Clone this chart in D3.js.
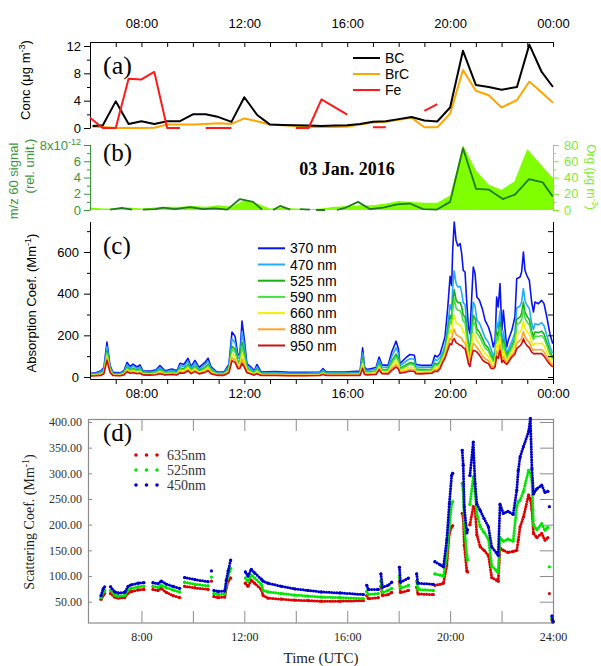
<!DOCTYPE html>
<html>
<head>
<meta charset="utf-8">
<script src="https://cdn.jsdelivr.net/npm/d3@7"></script>
<style>
  body { margin: 0; background: #fff; }
  svg { display: block; }
</style>
</head>
<body>
<svg id="chart" width="601" height="666"></svg>
<script>
// ---------------- data ----------------
// (a) mass concentrations, ug m-3 (time in decimal hours UTC)
const tA = [6.1, 6.5, 7.0, 7.5, 8.0, 8.5, 9.0, 9.5, 10.0, 10.5, 11.0, 11.5, 12.0, 12.5, 13.0, 13.5, 14.0, 14.5, 15.0, 15.5,
  16.0, 16.5, 17.0, 17.5, 18.0, 18.5, 19.0, 19.5, 20.0, 20.5, 21.0, 21.5, 22.0, 22.6, 23.08, 23.56, 24.0];
const bc = [0.3, 0.4, 3.9, 0.6, 1.0, 0.6, 1.0, 1.0, 2.0, 2.0, 1.6, 0.9, 4.5, 1.9, 0.5, 0.45, 0.4, 0.35, 0.3, 0.35,
  0.4, 0.6, 0.9, 1.0, 1.3, 1.6, 1.1, 0.95, 3.0, 11.3, 6.3, 6.0, 5.6, 6.0, 12.2, 8.2, 6.0];
const brc = [0.2, 0.15, 0.0, 0.0, 0.0, 0.05, 0.5, 0.5, 0.5, 0.6, 0.7, 0.6, 1.4, 1.0, 0.5, 0.4, 0.3, 0.15, 0.15, 0.15,
  0.2, 0.5, 0.8, 0.9, 1.2, 1.5, 0.1, 0.1, 2.1, 8.5, 5.45, 4.8, 3.0, 4.1, 6.8, 5.2, 3.7];
const tFe = [6.0, 6.5, 7.0, 7.5, 8.0, 8.5, 9.0, 9.5, 10.0, 10.5, 11.0, 11.5, 12.0, 13.5, 14.0, 14.5, 15.0, 16.0, 16.5,
  17.0, 17.5, 18.0, 19.0, 19.5, 20.0];
const fe = [1.5, 0, 0, 7.2, 7.1, 8.2, 0, 0, null, 0, 0, 0, null, null, 0, 0, 4.2, 1.95, null,
  0.1, 0.1, null, 2.5, 3.5, null];

// (b) m/z 60 signal (x1e-12) and organics (ug m-3)
const tMz = [6.78, 7.24, 7.63, 7.85, 8.06, 8.53, 8.84, 9.30, 9.89, 10.39, 10.86, 11.33, 11.83, 12.34, 12.69, 12.9,
  13.12, 13.39, 13.78, 14.0, 14.16, 14.55, 14.67, 14.79, 15.14, 15.4, 15.60, 15.91, 16.42, 16.89, 17.39, 17.94,
  18.44, 18.95, 19.49, 20.00, 20.50, 21.01, 21.51, 22.05, 22.52, 23.07, 23.60, 23.99];
const mz60 = [0.05, 0.25, 0.05, null, 0.05, 0.1, 0.3, 0.1, 0.35, 0.1, 0.2, 0.05, 1.35, 1.0, 0.05, null,
  0.0, 0.5, 0.05, null, 0.1, 0.05, null, 0.0, 0.0, null, 0.0, 0.25, 1.0, 0.1, 0.3, 0.7,
  0.8, 0.1, 0.05, 1.0, 7.6, 2.6, 2.5, 1.35, 1.9, 3.8, 3.4, 1.65];
const tOrg = [6.0, 6.5, 7.0, 7.5, 8.0, 8.5, 9.0, 9.5, 10.0, 10.5, 11.0, 11.5, 12.0, 12.5, 13.0, 13.5, 14.0, 14.5, 15.0,
  15.5, 16.0, 16.5, 17.0, 17.5, 18.0, 18.5, 19.0, 19.5, 20.0, 20.5, 21.0, 21.5, 22.0, 22.5, 23.0, 23.5, 24.0];
const org = [3, 2, 2, 3, 2, 3, 4, 4, 5, 4, 6, 4, 12, 8, 2, 3, 2, 1, 2,
  4, 5, 6, 6, 8, 11, 10, 9, 9, 18, 80, 49, 31, 25, 35, 75, 57, 39];

// (c) absorption coefficient, Mm-1
const tAbs = [6.00, 6.23, 6.43, 6.54, 6.66, 6.78, 6.89, 7.17, 7.32, 7.44, 7.56, 7.67, 7.83, 7.94, 8.06, 8.33, 8.57, 8.72, 8.92, 9.19,
  9.38, 9.50, 9.65, 9.81, 9.93, 10.08, 10.24, 10.47, 10.59, 10.70, 10.94, 11.21, 11.40, 11.52, 11.64, 11.75, 11.83, 11.91, 11.99, 12.10,
  12.26, 12.38, 12.49, 12.65, 13.19, 13.78, 14.36, 14.94, 15.06, 15.18, 15.91, 16.50, 16.60, 16.67, 16.77, 17.12, 17.24, 17.35, 17.59, 17.73,
  17.90, 17.99, 18.05, 18.31, 18.44, 18.61, 18.67, 18.87, 19.29, 19.41, 19.50, 19.61, 19.71, 19.80, 19.91, 20.00, 20.06, 20.10, 20.16, 20.23,
  20.30, 20.39, 20.45, 20.51, 20.58, 20.65, 20.71, 20.77, 20.84, 20.90, 20.97, 21.04, 21.14, 21.27, 21.36, 21.49, 21.59, 21.68, 21.75, 21.81,
  21.87, 21.94, 22.01, 22.07, 22.14, 22.20, 22.26, 22.40, 22.52, 22.59, 22.72, 22.78, 22.85, 22.91, 22.98, 23.08, 23.17, 23.24, 23.30, 23.43,
  23.56, 23.65, 23.76, 23.88, 23.99];
const abs370 = [18, 20, 30, 45, 168, 55, 22, 20, 30, 70, 50, 62, 48, 58, 30, 28, 35, 55, 30, 38,
  30, 66, 60, 90, 50, 80, 46, 70, 90, 50, 24, 24, 60, 216, 195, 105, 112, 268, 190, 64,
  48, 30, 60, 24, 26, 22, 22, 24, 40, 24, 24, 28, 140, 48, 36, 46, 96, 58, 56, 120,
  172, 136, 64, 96, 108, 104, 60, 56, 56, 104, 96, 112, 152, 192, 336, 483, 440, 608, 744, 656,
  629, 640, 592, 512, 504, 352, 240, 208, 384, 528, 496, 384, 368, 320, 272, 240, 200, 144, 176, 384,
  336, 448, 224, 320, 224, 144, 176, 224, 288, 472, 480, 504, 600, 512, 488, 464, 360, 312, 360, 352,
  368, 352, 288, 208, 160];
const abs470 = [15, 17, 25, 38, 146, 47, 18, 17, 25, 59, 42, 52, 40, 48, 25, 23, 29, 45, 25, 32,
  25, 55, 50, 75, 42, 67, 38, 58, 75, 42, 20, 20, 50, 182, 164, 89, 95, 218, 155, 53,
  40, 25, 49, 20, 21, 18, 18, 20, 33, 20, 20, 23, 115, 39, 30, 38, 81, 48, 46, 98,
  141, 112, 53, 78, 88, 85, 49, 46, 47, 85, 79, 94, 118, 149, 250, 347, 320, 426, 509, 450,
  432, 435, 406, 356, 349, 246, 166, 142, 265, 360, 340, 273, 258, 219, 188, 166, 134, 100, 122, 265,
  233, 314, 159, 219, 158, 109, 132, 170, 213, 331, 341, 360, 425, 366, 347, 328, 259, 228, 256, 251,
  261, 246, 201, 146, 113];
const abs525 = [12, 13, 19, 30, 124, 39, 15, 13, 20, 48, 34, 41, 32, 38, 20, 19, 23, 36, 20, 25,
  20, 43, 39, 60, 33, 53, 31, 46, 60, 33, 16, 16, 40, 147, 133, 73, 77, 167, 120, 42,
  31, 20, 38, 16, 17, 14, 14, 16, 26, 16, 16, 18, 90, 30, 23, 29, 66, 37, 36, 76,
  110, 87, 41, 60, 69, 65, 38, 36, 37, 66, 61, 76, 104, 133, 217, 296, 275, 357, 419, 371,
  357, 357, 336, 296, 291, 206, 138, 116, 219, 296, 281, 231, 216, 181, 156, 138, 108, 84, 102, 219,
  193, 262, 135, 181, 132, 95, 115, 150, 185, 277, 289, 305, 359, 311, 293, 276, 221, 196, 216, 213,
  220, 206, 167, 122, 95];
const abs590 = [10, 12, 17, 27, 115, 35, 13, 12, 18, 43, 31, 37, 29, 34, 18, 17, 21, 32, 18, 22,
  18, 38, 35, 54, 30, 48, 27, 41, 54, 30, 14, 14, 36, 133, 120, 66, 70, 147, 106, 38,
  28, 17, 34, 14, 15, 12, 12, 14, 23, 14, 14, 16, 80, 26, 20, 26, 59, 33, 31, 67,
  98, 77, 36, 53, 61, 57, 34, 31, 33, 58, 54, 69, 98, 125, 200, 270, 252, 322, 374, 332,
  320, 318, 300, 267, 261, 186, 124, 104, 197, 264, 251, 210, 194, 162, 140, 124, 96, 75, 92, 197,
  174, 237, 122, 162, 120, 89, 106, 140, 171, 250, 262, 277, 325, 283, 266, 250, 202, 180, 196, 194,
  199, 186, 151, 110, 86];
const abs660 = [8, 9, 13, 22, 100, 30, 10, 9, 15, 35, 25, 30, 23, 27, 15, 13, 17, 25, 15, 18,
  15, 31, 28, 44, 24, 38, 22, 33, 44, 24, 12, 12, 29, 110, 99, 55, 58, 113, 82, 30,
  22, 14, 26, 11, 11, 10, 10, 11, 18, 11, 11, 13, 63, 20, 16, 20, 49, 26, 24, 52,
  77, 61, 29, 41, 47, 44, 26, 24, 27, 46, 42, 57, 86, 110, 171, 225, 212, 262, 296, 263,
  254, 250, 238, 214, 210, 150, 99, 82, 157, 208, 199, 173, 158, 128, 112, 99, 74, 61, 74, 157,
  139, 192, 101, 128, 98, 77, 91, 122, 146, 203, 216, 229, 267, 234, 219, 205, 168, 152, 162, 160,
  163, 150, 122, 90, 70];
const abs880 = [6, 7, 10, 18, 89, 25, 9, 7, 12, 30, 21, 24, 19, 22, 12, 11, 13, 20, 12, 15,
  12, 25, 22, 36, 19, 31, 18, 27, 36, 19, 10, 10, 24, 92, 83, 47, 49, 86, 64, 24,
  17, 11, 20, 9, 9, 8, 8, 9, 15, 9, 9, 10, 50, 16, 13, 15, 41, 20, 19, 41,
  60, 48, 23, 31, 37, 34, 20, 19, 22, 36, 33, 47, 77, 98, 147, 186, 178, 210, 229, 204,
  198, 191, 185, 170, 165, 120, 78, 63, 123, 160, 155, 141, 126, 99, 88, 78, 55, 48, 58, 123,
  110, 154, 82, 99, 79, 67, 78, 106, 124, 163, 176, 188, 217, 193, 179, 166, 139, 128, 132, 131,
  132, 120, 97, 72, 57];
const abs950 = [5, 6, 8, 15, 80, 22, 7, 6, 10, 25, 18, 20, 16, 18, 10, 9, 11, 16, 10, 12,
  10, 20, 18, 30, 16, 26, 15, 22, 30, 16, 8, 8, 20, 78, 70, 40, 42, 66, 50, 20,
  14, 9, 16, 7, 7, 6, 6, 7, 12, 7, 7, 8, 40, 12, 10, 12, 35, 16, 15, 32,
  48, 38, 18, 24, 29, 26, 16, 15, 18, 28, 26, 40, 70, 90, 130, 160, 155, 175, 184, 165,
  160, 152, 150, 140, 136, 100, 64, 50, 100, 128, 125, 120, 105, 80, 72, 64, 42, 40, 48, 100,
  90, 128, 70, 80, 66, 60, 70, 96, 110, 136, 150, 160, 184, 165, 152, 140, 120, 112, 112, 112,
  112, 100, 80, 60, 48];
const absNames = ["370 nm", "470 nm", "525 nm", "590 nm", "660 nm", "880 nm", "950 nm"];

// (d) scattering coefficient, Mm-1 (null = gap in record)
const tSca = [6.43, 6.51, 6.57, 6.68, 6.80, 6.96, 7.09, 7.35, 7.48, 7.61, 7.87, 8.10, 8.30,
  8.45, 8.64, 8.77, 8.97, 9.23, 9.49, 9.58, 9.68, 10.08, 10.59, 10.65, 10.72, 10.77,
  10.82, 10.98, 11.24, 11.30, 11.37, 11.47, 11.70,
  12.04, 12.14, 12.27, 12.40, 12.66, 12.73, 12.92, 13.44, 13.96, 14.48, 14.99, 15.72, 16.63, 16.70,
  16.76, 16.82, 17.21, 17.26, 17.31, 17.37, 17.59, 17.73, 17.90, 18.03, 18.07, 18.38, 18.55,
  18.70, 18.75, 19.35, 19.38, 19.41, 19.61, 19.74, 19.87, 19.97, 20.06, 20.10, 20.30,
  20.47, 20.51, 20.55, 20.65, 20.68, 20.72,
  20.77, 20.90, 20.97, 21.04, 21.17, 21.32, 21.49, 21.62, 21.81, 21.87,
  21.94, 22.07, 22.25, 22.45, 22.59, 22.65, 22.72, 22.85, 23.05, 23.12, 23.18, 23.24, 23.37, 23.56, 23.69, 23.80,
  23.83, 23.86, 23.90, 23.96, 24.0];
const sca450 = [62, 75, 79, null, 79, 69, 67, 68, 80, 83, 86, 87, null,
  87, 85, 90, 84, 80, 76, null, 97, 93, 89, null, 110, null,
  72, 70, 71, 92, 110, 131, null,
  108, 100, 113, 106, 94, 90, 86, 80, 75, 72, 69, 67, 64, null,
  82, 74, 74, null, 104, 78, 82, 88, null, 117, 88, 96, null,
  104, 86, 84, null, 128, 122, 118, 170, 241, 296, 300, null,
  345, 316, 235, 184, 190, null,
  296, 361, 280, 240, 228, 212, 196, 156, 145, 140,
  240, 222, 226, 220, 267, 306, 332, 352, 381, 407, 309, 260, 270, 277, 263, 265,
  null, 235, null, 22, 12];
const sca525 = [58, 68, 72, null, 72, 63, 61, 62, 73, 76, 79, 80, null,
  80, 78, 82, 77, 73, 69, null, 88, 84, 81, null, 98, null,
  66, 64, 65, 84, 100, 115, null,
  96, 90, 102, 96, 84, 72, 69, 66, 63, 61, 59, 58, 56, null,
  70, 64, 66, null, 90, 68, 72, 76, null, 100, 76, 82, null,
  90, 74, 72, null, 104, 102, 100, 140, 196, 241, 245, null,
  280, 267, 200, 140, 131, null,
  240, 293, 265, 220, 196, 185, 172, 120, 110, 107,
  175, 168, 172, 168, 235, 245, 248, 265, 306, 300, 287, 200, 190, 202, 189, 195,
  null, 118, null, 18, 11];
const sca635 = [55, 62, 66, null, 66, 59, 57, 58, 67, 70, 73, 74, null,
  74, 72, 76, 68, 62, 58, null, 80, 77, 74, null, 90, null,
  60, 58, 59, 77, 90, 96, null,
  86, 80, 92, 86, 74, 62, 57, 55, 53, 52, 51, 51, 52, null,
  62, 56, 58, null, 80, 62, 64, 68, null, 90, 68, 72, null,
  78, 65, 64, null, 82, 84, 86, 120, 183, 196, 198, null,
  222, 215, 160, 110, 108, null,
  200, 235, 230, 180, 157, 150, 140, 97, 92, 90,
  155, 150, 146, 148, 150, 170, 196, 215, 258, 250, 230, 183, 175, 183, 170, 175,
  null, 66, null, 15, 10];
const scaNames = ["635nm", "525nm", "450nm"];

// ---------------- drawing ----------------
const sans = "Arial, 'Liberation Sans', Helvetica, sans-serif";
const serif = "'Times New Roman', 'Liberation Serif', Times, serif";
const svg = d3.select("#chart");

const x = d3.scaleLinear().domain([6, 24]).range([90, 553]);
const hhmm = h => (h % 4 !== 0) ? "" : (h === 24 ? "00:00" : String(h).padStart(2, "0") + ":00");
const zip = (ts, vs) => ts.map((t, i) => ({ t: t, v: vs[i] }));

function styleAx(g, color, size, family) {
  g.attr("font-family", family || sans).attr("font-size", size || 13);
  g.selectAll("line, path").attr("stroke", color || "#000");
  g.selectAll("text").attr("fill", color || "#000");
}

// text with superscript parts, e.g. [["Conc (μg m"], ["-3", true], [")"]]
function label(parent, px, py, rot, parts, opt) {
  const t = parent.append("text")
    .attr("transform", `translate(${px},${py}) rotate(${rot})`)
    .attr("text-anchor", "middle")
    .attr("font-family", opt.family || sans)
    .attr("font-size", opt.size || 13)
    .attr("fill", opt.color || "#000");
  let up = false;
  parts.forEach(p => {
    const s = t.append("tspan").text(p[0]);
    if (p[1]) { s.attr("dy", -5).attr("font-size", (opt.size || 13) * 0.7); up = true; }
    else if (up) { s.attr("dy", 5); up = false; }
  });
  return t;
}

// ===== (a) =====
const yA = d3.scaleLinear().domain([0, 12]).range([128, 46]);
const gA = svg.append("g");

gA.append("g").attr("transform", "translate(0,42)")
  .call(d3.axisTop(x).tickValues(d3.range(7, 25)).tickSize(-5).tickSizeOuter(0).tickPadding(14).tickFormat(hhmm))
  .call(styleAx);
gA.append("line").attr("x1", 90.5).attr("x2", 90.5).attr("y1", 42).attr("y2", 128.5).attr("stroke", "#000");
gA.append("g").attr("transform", "translate(90,0)")
  .call(d3.axisLeft(yA).tickValues([0, 4, 8, 12]).tickSize(6).tickPadding(3))
  .call(styleAx).call(g => g.select(".domain").remove());
gA.append("g").attr("transform", "translate(90,0)")
  .call(d3.axisLeft(yA).tickValues([2, 6, 10]).tickSize(3).tickFormat(""))
  .call(styleAx).call(g => g.select(".domain").remove());

label(gA, 30, 80, -90, [["Conc (μg m"], ["-3", true], [")"]], {});

const lineA = d3.line().defined(d => d.v != null).x(d => x(d.t)).y(d => yA(d.v));
[[zip(tA, brc), "#ffa500"], [zip(tA, bc), "#000"], [zip(tFe, fe), "#ff1a1a"]].forEach(s => {
  gA.append("path").attr("d", lineA(s[0])).attr("fill", "none")
    .attr("stroke", s[1]).attr("stroke-width", 2).attr("stroke-linejoin", "round");
});

gA.append("text").attr("x", 103).attr("y", 74).attr("font-family", serif).attr("font-size", 26).text("(a)");

const legA = [["BC", "#000"], ["BrC", "#ffa500"], ["Fe", "#ff1a1a"]];
legA.forEach((d, i) => {
  const yy = 58 + i * 16;
  gA.append("line").attr("x1", 353).attr("x2", 380).attr("y1", yy).attr("y2", yy)
    .attr("stroke", d[1]).attr("stroke-width", 2);
  gA.append("text").attr("x", 385).attr("y", yy).attr("dy", "0.36em")
    .attr("font-family", sans).attr("font-size", 14).text(d[0]);
});

// ===== (b) =====
const dkGreen = "#3a963a", ltGreen = "#80ea30";
const yMz = d3.scaleLinear().domain([0, 8]).range([210, 145]);
const yOrg = d3.scaleLinear().domain([0, 80]).range([210, 145]);
const gB = svg.append("g");

gB.append("path")
  .attr("d", d3.area().x(d => x(d.t)).y0(yOrg(0)).y1(d => yOrg(d.v))(zip(tOrg, org)))
  .attr("fill", "#80ff00");
gB.append("path")
  .attr("d", d3.line().defined(d => d.v != null).x(d => x(d.t)).y(d => yMz(d.v))(zip(tMz, mz60)))
  .attr("fill", "none").attr("stroke", "#1e7b1e").attr("stroke-width", 1.8).attr("stroke-linejoin", "round");

gB.append("line").attr("x1", 90.5).attr("x2", 90.5).attr("y1", 145).attr("y2", 210.5).attr("stroke", dkGreen);
gB.append("g").attr("transform", "translate(90,0)")
  .call(d3.axisLeft(yMz).tickValues([0, 2, 4, 6, 8]).tickSize(6).tickPadding(3))
  .call(g => styleAx(g, dkGreen)).call(g => g.select(".domain").remove())
  .call(g => g.selectAll(".tick text").filter(d => d === 8).text("8x10")
    .append("tspan").attr("dy", "-0.55em").attr("font-size", 9).text("-12"));
gB.append("g").attr("transform", "translate(90,0)")
  .call(d3.axisLeft(yMz).tickValues([1, 3, 5, 7]).tickSize(3).tickFormat(""))
  .call(g => styleAx(g, dkGreen)).call(g => g.select(".domain").remove());

gB.append("line").attr("x1", 553.5).attr("x2", 553.5).attr("y1", 145).attr("y2", 210.5).attr("stroke", ltGreen);
gB.append("g").attr("transform", "translate(553,0)")
  .call(d3.axisRight(yOrg).tickValues([0, 20, 40, 60, 80]).tickSize(6).tickPadding(5))
  .call(g => styleAx(g, ltGreen)).call(g => g.select(".domain").remove());
gB.append("g").attr("transform", "translate(553,0)")
  .call(d3.axisRight(yOrg).tickValues([10, 30, 50, 70]).tickSize(3).tickFormat(""))
  .call(g => styleAx(g, ltGreen)).call(g => g.select(".domain").remove());

label(gB, 18, 181, -90, [["m/z 60 signal"]], { color: dkGreen });
label(gB, 34, 166, -90, [["(rel. unit.)"]], { color: dkGreen });
label(gB, 587, 177, 90, [["Org (μg m"], ["-3", true], [")"]], { color: ltGreen, size: 12 });

gB.append("text").attr("x", 103).attr("y", 161).attr("font-family", serif).attr("font-size", 25).text("(b)");
gB.append("text").attr("x", 347).attr("y", 175).attr("text-anchor", "middle")
  .attr("font-family", serif).attr("font-size", 18).attr("font-weight", "bold").text("03 Jan. 2016");

// ===== (c) =====
const yC = d3.scaleLinear().domain([0, 600]).range([377, 252]);
const gC = svg.append("g");
const absSeries = [abs370, abs470, abs525, abs590, abs660, abs880, abs950];
const absColors = ["#0a14f0", "#22aaff", "#14b014", "#44e044", "#f2f200", "#ffa228", "#cc1010"];

const lineC = d3.line().x(d => x(d.t)).y(d => yC(d.v));
absSeries.forEach((vals, i) => {
  gC.append("path").attr("d", lineC(zip(tAbs, vals))).attr("fill", "none")
    .attr("stroke", absColors[i]).attr("stroke-width", 1.6).attr("stroke-linejoin", "round");
});

gC.append("g").attr("transform", "translate(0,379)")
  .call(d3.axisBottom(x).tickValues(d3.range(7, 25)).tickSize(5).tickSizeOuter(0).tickPadding(5).tickFormat(hhmm))
  .call(styleAx);
gC.append("line").attr("x1", 90.5).attr("x2", 90.5).attr("y1", 222).attr("y2", 379.5).attr("stroke", "#000");
gC.append("line").attr("x1", 553.5).attr("x2", 553.5).attr("y1", 222).attr("y2", 379.5).attr("stroke", "#000");
gC.append("g").attr("transform", "translate(90,0)")
  .call(d3.axisLeft(yC).tickValues([0, 200, 400, 600]).tickSize(6).tickPadding(5))
  .call(styleAx).call(g => g.select(".domain").remove());
gC.append("g").attr("transform", "translate(90,0)")
  .call(d3.axisLeft(yC).tickValues([100, 300, 500, 700]).tickSize(3).tickFormat(""))
  .call(styleAx).call(g => g.select(".domain").remove());
gC.append("g").attr("transform", "translate(553,0)")
  .call(d3.axisLeft(yC).tickValues(d3.range(0, 701, 100)).tickSize(-5).tickFormat(""))
  .call(styleAx).call(g => g.select(".domain").remove())
  .call(g => g.selectAll(".tick line").attr("x2", -5));

label(gC, 36, 303, -90, [["Absorption Coef. (Mm"], ["-1", true], [")"]], {});
gC.append("text").attr("x", 103).attr("y", 254).attr("font-family", serif).attr("font-size", 25).text("(c)");

absNames.forEach((n, i) => {
  const yy = 248.3 + i * 16.2;
  gC.append("line").attr("x1", 258).attr("x2", 285).attr("y1", yy).attr("y2", yy)
    .attr("stroke", absColors[i]).attr("stroke-width", 2);
  gC.append("text").attr("x", 290).attr("y", yy).attr("dy", "0.36em")
    .attr("font-family", sans).attr("font-size", 14).text(n);
});

// ===== (d) =====
const frame = "#8c8c8c";
const yD = d3.scaleLinear().domain([50, 400]).range([601.7, 422]);
const gD = svg.append("g");

gD.append("rect").attr("x", 88.5).attr("y", 419.5).attr("width", 465).attr("height", 203.5)
  .attr("fill", "none").attr("stroke", frame).attr("stroke-width", 1.2);

gD.append("g").attr("transform", "translate(88,0)")
  .call(d3.axisLeft(yD).tickValues(d3.range(50, 401, 50)).tickSize(-4).tickPadding(6).tickFormat(d3.format(".2f")))
  .call(g => styleAx(g, frame, 12, serif)).call(g => g.select(".domain").remove())
  .call(g => g.selectAll("text").attr("fill", "#333"));
gD.append("g").attr("transform", "translate(553,0)")
  .call(d3.axisRight(yD).tickValues(d3.range(50, 401, 50)).tickSize(-13).tickFormat(""))
  .call(g => styleAx(g, frame)).call(g => g.select(".domain").remove());
gD.append("g").attr("transform", "translate(0,419)")
  .call(d3.axisTop(x).tickValues(d3.range(8, 23, 2)).tickSize(-12).tickFormat(""))
  .call(g => styleAx(g, frame)).call(g => g.select(".domain").remove());
gD.append("g").attr("transform", "translate(0,623)")
  .call(d3.axisBottom(x).tickValues(d3.range(8, 25, 2)).tickSize(-12).tickPadding(9)
    .tickFormat(h => h % 4 === 0 ? h + ":00" : ""))
  .call(g => styleAx(g, frame, 12, serif)).call(g => g.select(".domain").remove())
  .call(g => g.selectAll("text").attr("fill", "#222"))
  .call(g => g.selectAll(".tick").filter(d => d === 24).select("line").remove());

const scaSeries = [sca635, sca525, sca450];
const scaColors = ["#e00000", "#00e600", "#0000cc"];
const lineD = d3.line().defined(d => d.v != null).x(d => x(d.t)).y(d => yD(d.v));
scaSeries.forEach((vals, i) => {
  const pts = zip(tSca, vals);
  gD.append("path").attr("d", lineD(pts)).attr("fill", "none")
    .attr("stroke", scaColors[i]).attr("stroke-width", 3)
    .attr("stroke-linecap", "round").attr("stroke-dasharray", "0 2.6");
  gD.append("g").selectAll("circle").data(pts.filter(d => d.v != null)).join("circle")
    .attr("cx", d => x(d.t)).attr("cy", d => yD(d.v)).attr("r", 1.6).attr("fill", scaColors[i]);
});

gD.append("text").attr("x", 103).attr("y", 441).attr("font-family", serif).attr("font-size", 25).text("(d)");
label(gD, 34, 522, -90, [["Scattering Coef. (Mm"], ["-1", true], [")"]], { family: serif, size: 14, color: "#222" });
gD.append("text").attr("x", 321).attr("y", 663).attr("text-anchor", "middle")
  .attr("font-family", serif).attr("font-size", 15).attr("fill", "#222").text("Time (UTC)");

scaNames.forEach((n, i) => {
  const yy = 455 + i * 15;
  [136, 146.5, 157].forEach(cx => {
    gD.append("circle").attr("cx", cx).attr("cy", yy).attr("r", 1.8).attr("fill", scaColors[i]);
  });
  gD.append("text").attr("x", 167).attr("y", yy).attr("dy", "0.35em")
    .attr("font-family", serif).attr("font-size", 14).attr("fill", "#333").text(n);
});
</script>
</body>
</html>
